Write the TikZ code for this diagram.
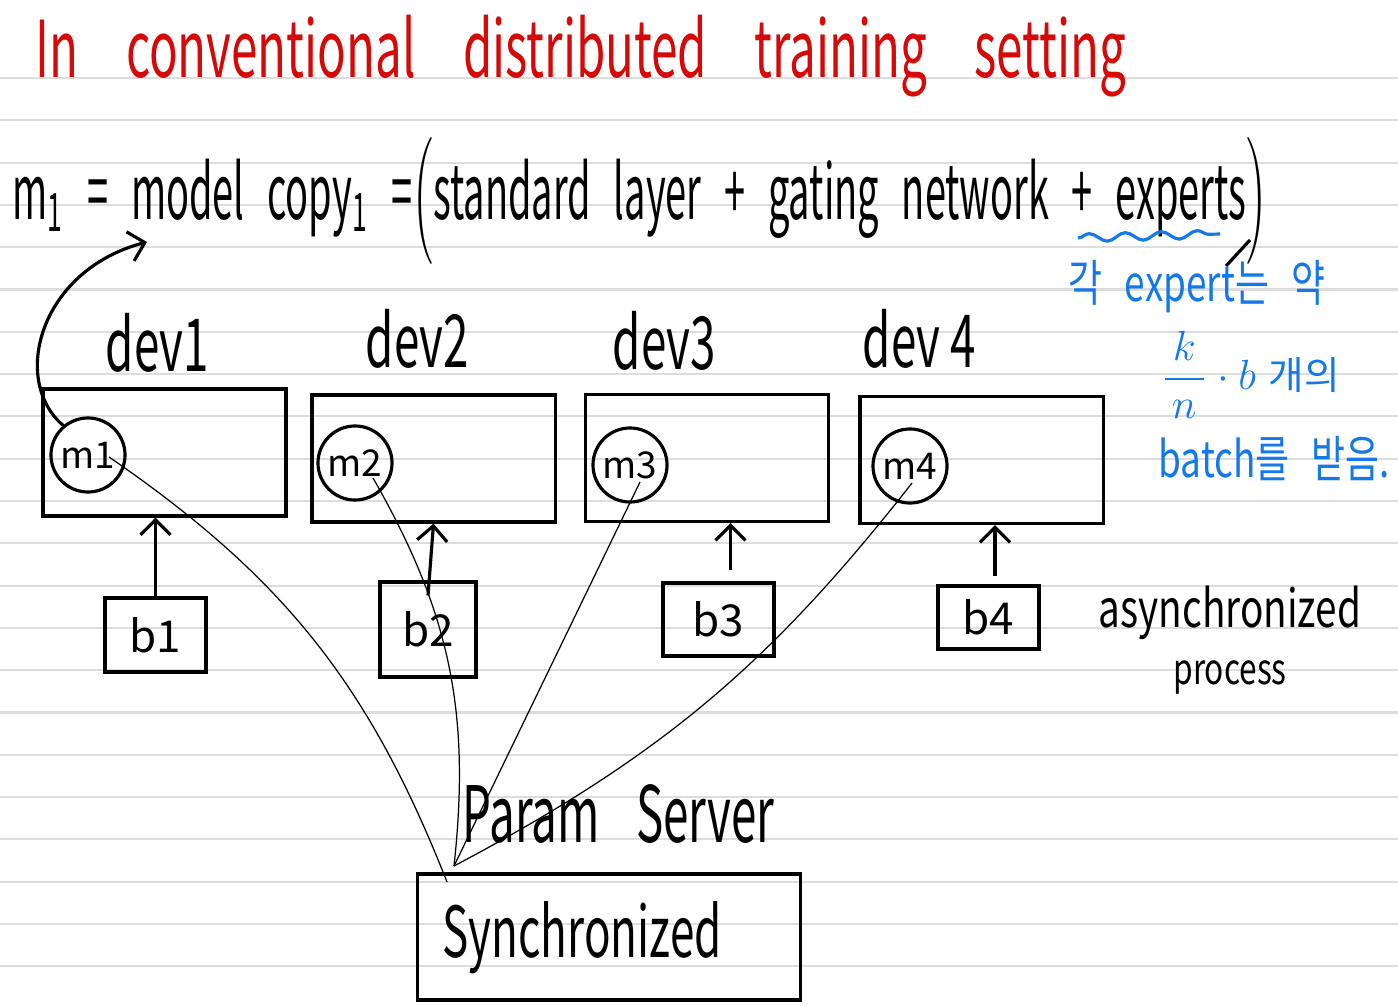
\documentclass[tikz,border=0pt]{standalone}
\usepackage{fontspec}
\setmainfont{Noto Sans CJK KR}
\usetikzlibrary{decorations.pathmorphing, arrows.meta}
\definecolor{inkred}{RGB}{214,8,8}
\definecolor{inkblue}{RGB}{20,120,235}
\definecolor{ruleline}{RGB}{221,221,221}
\newcommand\wordgap[1]{\spaceskip #1\relax}
\tikzset{
  devbox/.style={draw, line width=0.9pt, minimum width=2.43cm, minimum height=1.27cm, inner sep=0pt},
  modelnode/.style={draw, circle, line width=0.9pt, minimum size=0.74cm, inner sep=0pt, font=\fontsize{10.5}{12}\selectfont},
  batchbox/.style={draw, line width=0.9pt, inner sep=0pt, font=\fontsize{12.5}{15}\selectfont},
  feed/.style={line width=0.9pt, -{Straight Barb[length=1.5mm, width=3mm]}},
  sync/.style={line width=0.35pt},
  hand/.style={inner sep=0pt},
}
\begin{document}
\begin{tikzpicture}[x=0.01cm, y=-0.01cm]
        % Page with ruled lines
        \fill[white] (0,0) rectangle (1398,1007);
        \useasboundingbox (0,0) rectangle (1398,1007);
        \foreach \k in {0,...,21}
            \draw[ruleline, line width=0.6pt] (0,{78+42.3*\k}) -- (1398,{78+42.3*\k});

        % Title
        \node[hand, inkred, yscale=1.65, anchor=base west, font=\fontsize{13.5}{16}\selectfont\wordgap{1em}] (title) at (35,78) {In conventional distributed training setting};

        % Model copy definition
        \node[hand, yscale=2, anchor=base west, font=\fontsize{10.8}{13}\selectfont\wordgap{0.6em}] (copyeq) at (12,220) {m\textsubscript{1} = model copy\textsubscript{1} =$\Bigl($standard layer + gating network + experts$\Bigr)$};
        \draw[line width=0.9pt] (1250,240) -- (1226,266);
        \draw[inkblue, line width=0.9pt, decorate, decoration={snake, amplitude=0.04cm, segment length=0.36cm}] (1078,238) -- (1220,234);

        % Note on experts
        \node[hand, inkblue, yscale=1.35, anchor=base west, font=\fontsize{10.5}{13}\selectfont\wordgap{0.6em}] (note1) at (1068,302) {각 expert는 약};
        \node[hand, inkblue, anchor=west, font=\fontsize{12}{14}\selectfont\wordgap{0.3em}] (note2) at (1160,375) {$\displaystyle\frac{\,k\,}{\,n\,}\cdot b$ {\fontsize{11}{13}\selectfont 개의}};
        \node[hand, inkblue, yscale=1.35, anchor=base west, font=\fontsize{10.5}{13}\selectfont\wordgap{0.6em}] (note3) at (1158,478) {batch를 받음.};

        % Devices
        \node[devbox] (dev1box) at (164.5,452.5) {};
        \node[devbox] (dev2box) at (433.5,458.5) {};
        \node[devbox] (dev3box) at (707,458) {};
        \node[devbox] (dev4box) at (981.5,460) {};
        \node[hand, yscale=1.6, anchor=base west, font=\fontsize{13}{16}\selectfont] (dev1) at (105,372) {dev1};
        \node[hand, yscale=1.6, anchor=base west, font=\fontsize{13}{16}\selectfont] (dev2) at (365,368) {dev2};
        \node[hand, yscale=1.6, anchor=base west, font=\fontsize{13}{16}\selectfont] (dev3) at (612,370) {dev3};
        \node[hand, yscale=1.6, anchor=base west, font=\fontsize{13}{16}\selectfont] (dev4) at (862,368) {dev 4};

        % Model copies
        \node[modelnode] (m1) at (88,455) {m1};
        \node[modelnode] (m2) at (355,463) {m2};
        \node[modelnode] (m3) at (630,465) {m3};
        \node[modelnode] (m4) at (910,466) {m4};

        % Batches
        \node[batchbox, minimum width=1.01cm, minimum height=0.74cm] (b1) at (155.5,635) {b1};
        \node[batchbox, minimum width=0.96cm, minimum height=0.95cm] (b2) at (428,629.5) {b2};
        \node[batchbox, minimum width=1.11cm, minimum height=0.73cm] (b3) at (718.5,619.5) {b3};
        \node[batchbox, minimum width=1.01cm, minimum height=0.63cm] (b4) at (988.5,617.5) {b4};
        \coordinate (b3top) at ([xshift=0.12cm, yshift=0.11cm]b3.north);
        \coordinate (b4top) at ([xshift=0.065cm, yshift=0.08cm]b4.north);

        % Batch feeds
        \draw[feed] (b1.north) -- (b1.north |- dev1box.south);
        \draw[feed] ([yshift=-0.15cm]b2.north) -- (dev2box.south);
        \draw[feed] (b3top) -- (b3top |- dev3box.south);
        \draw[feed] (b4top) -- (b4top |- dev4box.south);

        % Arrow back to the definition
        \coordinate (copytip) at (147,242);
        \draw[feed] (m1.130) .. controls (10,380) and (40,270) .. (copytip);

        \node[hand, anchor=center, align=center, yscale=1.35, font=\fontsize{11}{12}\selectfont] (async) at (1230,640) {asynchronized\\{\fontsize{9}{11}\selectfont process}};

        % Parameter server
        \node[draw, line width=0.9pt, minimum width=3.82cm, minimum height=1.26cm] (server) at (609,937) {};
        \node[hand, yscale=1.6, font=\fontsize{12.5}{15}\selectfont] (synclabel) at (582,938) {Synchronized};
        \node[hand, yscale=1.7, anchor=base west, font=\fontsize{13}{16}\selectfont\wordgap{0.8em}] (serverlabel) at (462,842) {Param Server};
        \coordinate (hub) at (454,866);
        \coordinate (hubin) at (447,882);

        % Links to the server
        \draw[sync] ([shift={(0.21cm,-0.02cm)}]m1.center) to[bend left=17] (hubin);
        \draw[sync] ([shift={(0.18cm,-0.15cm)}]m2.center) to[bend left=18] (hub);
        \draw[sync] ([shift={(0.10cm,-0.17cm)}]m3.center) -- (hub);
        \draw[sync] ([shift={(0.02cm,-0.17cm)}]m4.center) to[bend left=12] (hub);
\end{tikzpicture}
\end{document}
